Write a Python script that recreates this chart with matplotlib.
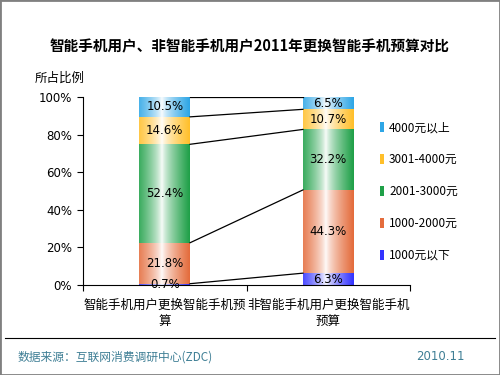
import matplotlib.pyplot as plt
import numpy as np
from matplotlib.colors import LinearSegmentedColormap
from matplotlib.patches import Patch, Rectangle

plt.rcParams['font.family'] = ['Noto Sans CJK SC', 'DejaVu Sans']

# data
categories = ["智能手机用户更换智能手机预\n算", "非智能手机用户更换智能手机\n预算"]
series = ["1000元以下", "1000-2000元", "2001-3000元", "3001-4000元", "4000元以上"]
smart = [0.7, 21.8, 52.4, 14.6, 10.5]
non_smart = [6.3, 44.3, 32.2, 10.7, 6.5]
colors = ["#3333ff", "#e46c3c", "#1fa048", "#ffbf2a", "#2ea6e6"]

values = np.array([smart, non_smart])  # rows = categories
width = 0.31

fig = plt.figure(figsize=(5, 3.75), dpi=100)
ax = fig.add_axes([0.166, 0.24, 0.654, 0.501])

# gradient along bar width: colour -> white -> colour
grad = np.linspace(0, 1, 64)
grad = np.abs(grad - 0.45) / 0.55
grad = np.clip(grad, 0, 1).reshape(1, -1)

x = np.arange(len(categories))
cum = np.cumsum(values, axis=1)
bottoms = cum - values
for i in range(len(categories)):
    for j, col in enumerate(colors):
        cmap = LinearSegmentedColormap.from_list("g", ["white", col])
        x0, x1 = x[i] - width / 2, x[i] + width / 2
        y0, y1 = bottoms[i, j], cum[i, j]
        ax.imshow(grad ** 0.7, cmap=cmap, vmin=0, vmax=1, extent=[x0, x1, y0, y1],
                  aspect="auto", interpolation="bicubic", zorder=2)
        ax.text(x[i], (y0 + y1) / 2, f"{values[i, j]:.1f}%", ha="center", va="center",
                fontsize=8.5, family="DejaVu Sans", zorder=4)

# series lines
for j in range(len(series)):
    ax.plot([x[0] + width / 2, x[1] - width / 2], [cum[0, j], cum[1, j]],
            color="black", lw=0.9, zorder=3)

ax.set_xlim(-0.5, 1.5)
ax.set_ylim(0, 100)
ax.set_yticks(np.arange(0, 101, 20))
ax.set_yticklabels([f"{v}%" for v in range(0, 101, 20)], fontsize=8.5, family="DejaVu Sans")
ax.set_xticks([-0.5, 0.5, 1.5])
ax.set_xticklabels([])
ax.set_xticks(x, minor=True)
ax.set_xticklabels(categories, minor=True, fontsize=9, linespacing=1.35)
ax.tick_params(axis="x", which="minor", length=0, pad=10)
ax.tick_params(axis="x", which="major", length=4, direction="out")
ax.tick_params(axis="y", length=4, direction="out", pad=4)
ax.spines["top"].set_visible(False)
ax.spines["right"].set_visible(False)
ax.spines["left"].set_visible(False)
ax.plot([-0.5, -0.5], [0, 100], color="black", lw=0.8, clip_on=False, zorder=1)
for s in ax.spines.values():
    s.set_linewidth(0.8)

handles = [Patch(facecolor=c, edgecolor="none") for c in colors][::-1]
fig.legend(handles, series[::-1], loc="upper left", bbox_to_anchor=(0.738, 0.705),
           frameon=False, fontsize=8.5, handlelength=0.35, handleheight=0.9,
           handletextpad=0.45, labelspacing=1.6)

fig.text(0.5, 0.875, "智能手机用户、非智能手机用户2011年更换智能手机预算对比",
         ha="center", va="center", fontsize=10.5, fontweight="bold")
fig.text(0.07, 0.79, "所占比例", ha="left", va="center", fontsize=9)

fig.add_artist(plt.Line2D([0.01, 0.99], [0.099, 0.099], color="black", lw=0.8))
fig.text(0.035, 0.048, "数据来源：互联网消费调研中心(ZDC)", ha="left", va="center",
         fontsize=8.5, color="#3f7f95")
fig.text(0.93, 0.048, "2010.11", ha="right", va="center", fontsize=8.5,
         color="#3f7f95", family="DejaVu Sans")

fig.add_artist(Rectangle((0, 0), 1, 1, transform=fig.transFigure, fill=False,
                         edgecolor="#808080", lw=2))

fig.savefig("out.png", dpi=100)
